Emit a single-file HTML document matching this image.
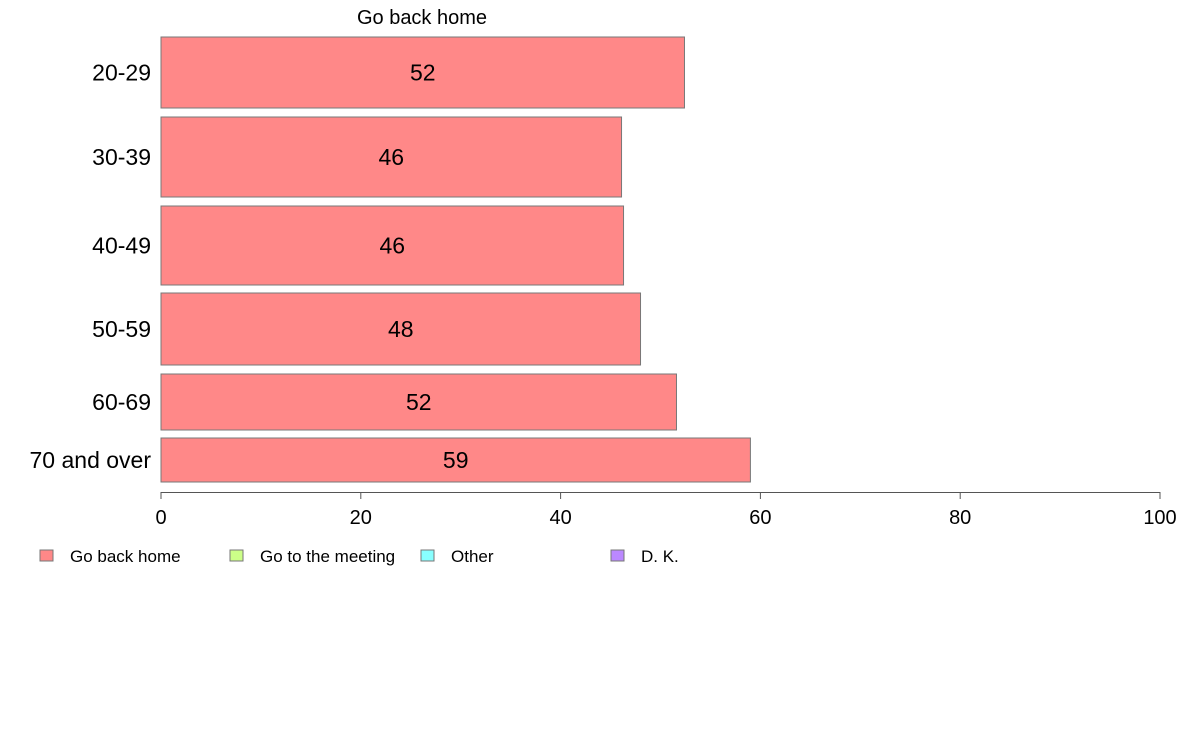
<!DOCTYPE html>
<html><head><meta charset="utf-8"><style>
body{margin:0;background:#fff;font-family:"Liberation Sans",Arial,sans-serif;}
svg text{font-family:"Liberation Sans",Arial,sans-serif;}
</style></head><body>
<svg id="chart" width="1188" height="736" viewBox="0 0 1188 736">
<text x="422" y="24" font-size="20" text-anchor="middle">Go back home</text>
<g id="bars"></g>
<g id="axis"></g>
<g id="legend"></g>
</svg>
<script>
const categories=["20-29","30-39","40-49","50-59","60-69","70 and over"];
const values=[52.4,46.1,46.3,48.0,51.6,59.0];
const labels=["52","46","46","48","52","59"];
const ticks=[0,20,40,60,80,100];
const legendLabels=["Go back home","Go to the meeting","Other","D. K."];
const legendColors=["#ff8888","#ccff88","#88ffff","#bb88ff"];
const bandTop=[37,117,206,293,374,438];
const bandBottom=[108,197,285,365,430,482];
const NS="http://www.w3.org/2000/svg";
const x0=161,x1=1160;
function xs(v){return x0+(x1-x0)*v/100;}
function mk(tag,attrs,parent){const e=document.createElementNS(NS,tag);for(const k in attrs)e.setAttribute(k,attrs[k]);parent.appendChild(e);return e;}
const gb=document.getElementById('bars');
categories.forEach((c,i)=>{
 const r=mk('rect',{x:x0,y:bandTop[i],width:xs(values[i])-x0,height:bandBottom[i]-bandTop[i],fill:'#ff8888',stroke:'#777','stroke-width':1},gb);
 
 
 const cy=(bandTop[i]+bandBottom[i])/2;
 const t=mk('text',{x:(x0+xs(values[i]))/2,y:cy+8,'font-size':23,'text-anchor':'middle'},gb);
 t.textContent=labels[i];
 
 
 const l=mk('text',{x:151,y:cy+8,'font-size':23,'text-anchor':'end'},gb);
 l.textContent=c;
 
 
});
const ga=document.getElementById('axis');
const al=mk('line',{x1:x0,x2:x1,y1:492.5,y2:492.5,stroke:'#555'},ga);


ticks.forEach(v=>{
 const tl=mk('line',{x1:xs(v),x2:xs(v),y1:492,y2:499,stroke:'#555'},ga);
 
 
 const t=mk('text',{x:xs(v),y:524,'font-size':20,'text-anchor':'middle'},ga);
 t.textContent=v;
 
 
});
const gl=document.getElementById('legend');
const lx=[40,230,421,611];
legendLabels.forEach((s,i)=>{
 const r=mk('rect',{x:lx[i],y:550,width:13,height:11,fill:legendColors[i],stroke:'#777'},gl);
 
 
 const t=mk('text',{x:lx[i]+30,y:562,'font-size':17},gl);
 t.textContent=s;
 
 
});
</script>
</body></html>
